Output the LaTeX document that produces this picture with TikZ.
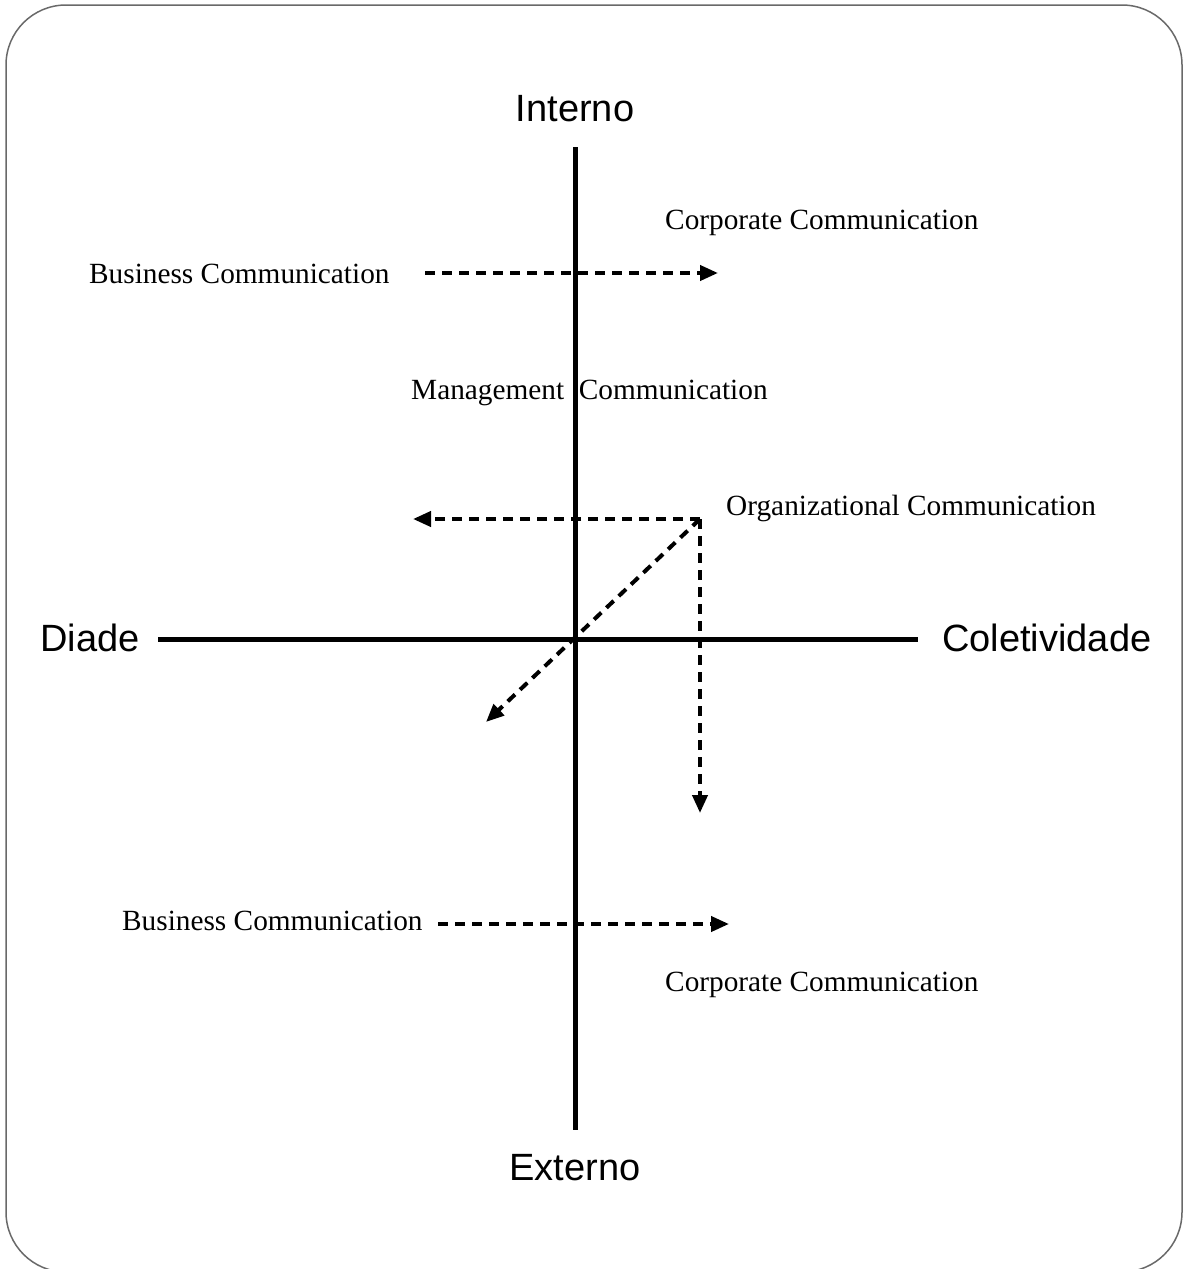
\documentclass[tikz,border=0pt]{standalone}
\usepackage{fontspec}
\setmainfont{Liberation Serif}
\setsansfont{Liberation Sans}
\usetikzlibrary{arrows.meta}
\definecolor{framegray}{RGB}{105,105,105}
\tikzset{
  axis/.style={line width=5pt},
  flow/.style={line width=4pt, dash pattern=on 10pt off 7pt,
    -{Triangle[length=18pt,width=15pt]}},
  term/.style={inner sep=0pt, anchor=base west,
    font=\fontsize{29.3}{34}\selectfont},
  pole/.style={inner sep=0pt, anchor=base,
    font=\sffamily\fontsize{38}{44}\selectfont},
}
\begin{document}
\begin{tikzpicture}[x=1pt,y=-1pt]
\useasboundingbox (0,0) rectangle (1183,1269);
% outer frame
\draw[framegray, line width=1.5pt, rounded corners=60pt] (6,5) rectangle (1182,1272);

% poles of the two axes
\node[pole] (interno) at (575,121) {Interno};
\node[pole] (externo) at (575,1180) {Externo};
\node[pole, anchor=base west] (diade) at (40,651) {Diade};
\node[pole, anchor=base west] (coletiv) at (942,651) {Coletividade};

% axes
\coordinate (ytop) at (575,147);
\coordinate (ybot) at (575,1130);
\coordinate (xlft) at (158,639);
\coordinate (xrgt) at (918,639);
\draw[axis] (ytop) -- (ybot);
\draw[axis] (xlft) -- (xrgt);

% labels
\node[term] (corpA) at (665,229) {Corporate Communication};
\node[term] (busA) at (89,283) {Business Communication};
\node[term] (mgmt) at (411,399) {Management~~Communication};
\node[term] (org) at (726,515) {Organizational Communication};
\node[term] (busB) at (122,930) {Business Communication};
\node[term] (corpB) at (665,991) {Corporate Communication};

% upper business arrow
\coordinate (busAs) at (425,273);
\coordinate (busAe) at (718,273);
\draw[flow] (busAs) -- (busAe);

% organizational communication branches
\coordinate (hub) at (700,519);
\coordinate (hubL) at (413,519);
\coordinate (hubD) at (700,813);
\coordinate (hubDiag) at (486,722);
\draw[flow] (hub) -- (hubL);
\draw[flow] (hub) -- (hubD);
\draw[flow] (hub) -- (hubDiag);

% lower business arrow
\coordinate (busBs) at (438,924);
\coordinate (busBe) at (729,924);
\draw[flow] (busBs) -- (busBe);
\end{tikzpicture}
\end{document}
